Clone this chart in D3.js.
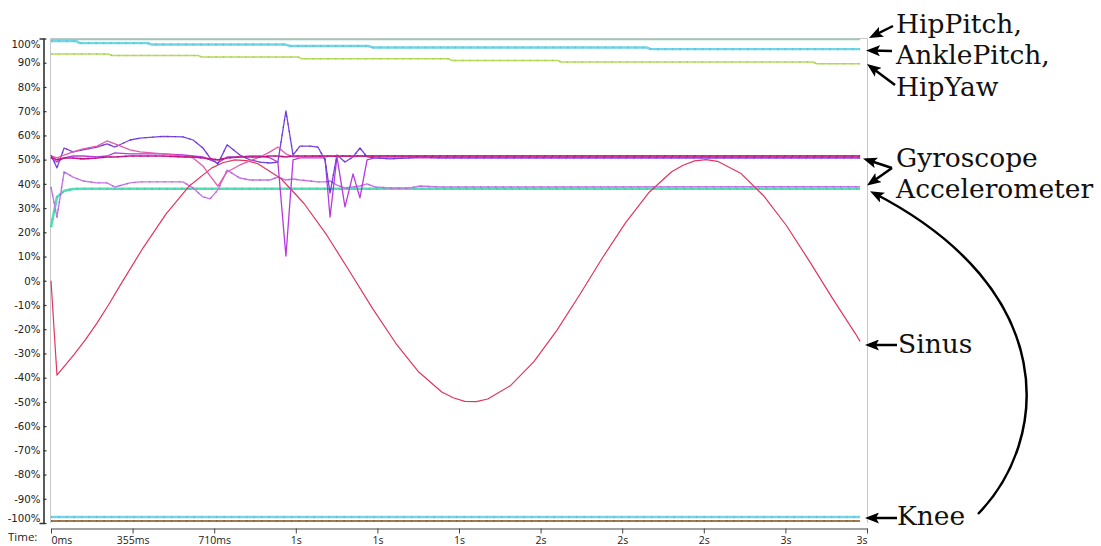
<!DOCTYPE html>
<html>
<head>
<meta charset="utf-8">
<script src="https://cdn.jsdelivr.net/npm/d3@7"></script>
<style>
  html, body { margin: 0; padding: 0; background: #fff; }
  svg { display: block; }
</style>
</head>
<body>
<svg id="chart" width="1101" height="546"></svg>
<script>
// ---- axis ticks ----
const yTickPct = [100, 90, 80, 70, 60, 50, 40, 30, 20, 10, 0, -10, -20, -30, -40, -50, -60, -70, -80, -90, -100];
const xTickMs = [0, 355, 710, 1065, 1420, 1775, 2130, 2485, 2840, 3195, 3550];
const xTickLabels = ["0ms", "355ms", "710ms", "1s", "1s", "1s", "2s", "2s", "2s", "3s", "3s"];

// ---- joint positions (% of range) ----
const hipPitchMs = [0, 3520];
const hipPitchPct = [99.6, 99.6];

const anklePitchMs = [0, 110, 125, 420, 440, 1020, 1040, 1380, 1400, 2590, 2610, 3520];
const anklePitchPct = [98.9, 98.9, 98.1, 98.1, 97.5, 97.5, 96.9, 96.9, 96.3, 96.3, 95.6, 95.6];

const hipYawMs = [0, 250, 265, 640, 655, 1075, 1090, 1730, 1745, 2205, 2220, 3315, 3330, 3520];
const hipYawPct = [93.6, 93.6, 93.0, 93.0, 92.4, 92.4, 91.6, 91.6, 90.9, 90.9, 90.3, 90.3, 89.6, 89.6];

const kneeMs = [0, 3520];
const kneeAPct = [-97.5, -97.5];
const kneeBPct = [-99.2, -99.2];

// ---- inertial sensors ----
const sensorMs = [0, 26, 57, 96, 139, 200, 244, 278, 344, 387, 487, 574, 618, 661, 692, 726, 766, 822, 866, 909,
  953, 987, 1022, 1053, 1083, 1127, 1161, 1192, 1214, 1244, 1279, 1314, 1344, 1375, 1409, 1475, 1562, 1605, 1692, 1779, 3520];

const gyroXPct = [51.9, 46.6, 54.8, 53.2, 54.0, 55.2, 56.5, 55.2, 58.1, 58.9, 59.6, 59.4, 58.1, 54.8, 50.7, 48.2, 56.1, 51.9, 49.9, 49.0,
  48.6, 49.0, 70.1, 51.9, 55.6, 55.6, 55.2, 49.9, 36.2, 51.9, 49.0, 51.1, 54.8, 51.1, 50.7, 50.3, 50.7, 51.1, 50.7, 50.7, 50.7];
const gyroYPct = [51.5, 50.7, 51.9, 53.2, 54.4, 55.6, 57.7, 56.5, 54.0, 53.2, 52.4, 51.5, 50.7, 47.4, 43.3, 39.1, 44.9, 47.8, 49.5, 51.1,
  53.2, 55.2, 52.4, 51.1, 51.1, 51.1, 51.5, 51.1, 51.5, 51.1, 51.5, 51.1, 51.5, 51.5, 51.5, 51.5, 51.5, 51.5, 51.5, 51.5, 51.5];
const gyroZPct = [51.1, 49.9, 50.7, 50.7, 50.3, 50.7, 51.1, 51.1, 51.5, 51.5, 51.5, 51.1, 51.1, 50.7, 50.3, 49.9, 50.7, 51.1, 51.1, 51.1,
  51.5, 51.5, 51.1, 51.5, 51.5, 51.5, 51.5, 51.5, 51.5, 51.5, 51.5, 51.5, 51.5, 51.5, 51.5, 51.5, 51.5, 51.5, 51.5, 51.5, 51.5];
const gyroRefPct = [50.7, 49.0, 50.7, 51.5, 51.5, 51.1, 51.5, 52.8, 52.4, 52.4, 52.4, 51.9, 51.5, 51.1, 49.9, 48.6, 51.1, 51.1, 51.5, 51.5,
  50.7, 49.0, 10.2, 49.9, 50.7, 50.7, 50.7, 50.7, 26.3, 51.1, 30.5, 44.1, 34.2, 49.9, 50.7, 50.7, 50.7, 50.7, 50.7, 50.7, 50.7];
const accelXPct = [38.7, 26.3, 44.9, 42.8, 41.2, 40.4, 40.4, 38.7, 40.4, 40.8, 40.8, 40.8, 38.3, 34.6, 33.8, 37.5, 45.7, 42.4, 41.6, 41.6,
  41.6, 42.8, 41.6, 42.0, 41.6, 41.2, 40.8, 40.8, 41.2, 39.5, 38.3, 38.7, 39.1, 40.0, 38.7, 38.3, 38.3, 39.1, 38.7, 38.7, 38.8];

const accelZMs = [0, 26, 57, 96, 139, 3520];
const accelZPct = [22.2, 34.6, 37.1, 37.9, 38.0, 38.0];

// ---- test signal ----
const sinusMs = [0, 26, 100, 150, 200, 250, 300, 400, 500, 600, 700, 750, 800, 850, 900, 1000, 1100, 1200, 1300, 1400, 1500, 1600, 1700, 1750, 1800, 1850,
  1900, 2000, 2100, 2200, 2300, 2400, 2500, 2600, 2700, 2750, 2800, 2850, 2900, 3000, 3100, 3200, 3300, 3400, 3500, 3520];
const sinusPct = [0, -39, -30.5, -24.3, -17.5, -10.0, -2.0, 13.5, 27.5, 39.0, 46.6, 48.8, 49.9, 49.6, 48.3, 42.2, 32.0, 18.8, 3.7, -11.6, -25.8, -37.7, -45.9, -48.3, -49.8, -49.9,
  -48.8, -43.2, -33.5, -20.6, -5.8, 9.6, 24.0, 36.3, 45.0, 47.7, 49.5, 50.0, 49.3, 44.4, 35.1, 22.7, 8.0, -7.3, -21.9, -25.0];

// ---- layout ----
const svg = d3.select("#chart");
const x = d3.scaleLinear().domain([0, 3550]).range([51, 867]);
const y = d3.scaleLinear().domain([-100, 100]).range([523, 38.5]);

// plot frame
const frame = svg.append("g").attr("stroke", "#c9c9c9").attr("stroke-width", 1).attr("fill", "none");
frame.append("path").attr("d", `M50.5,${y(-100)}V${y(100)}H${x(3550) + 0.5}V${y(-100)}`);

// series definitions
const series = [
  { ms: hipPitchMs, v: hipPitchPct, color: "#88d3b4", w: 1.4 },
  { ms: anklePitchMs, v: anklePitchPct, color: "#72d5e6", w: 2.4, dots: "#54b9cf" },
  { ms: hipYawMs, v: hipYawPct, color: "#b5dc5c", w: 1.5, dots: "#9cc944" },
  { ms: kneeMs, v: kneeAPct, color: "#74d6e6", w: 2.6, dots: "#55b8cd" },
  { ms: kneeMs, v: kneeBPct, color: "#a57a52", w: 2, dots: "#7e5a38" },
  { ms: accelZMs, v: accelZPct, color: "#55dfb6", w: 2.6, dots: "#3cc49b" },
  { ms: sensorMs, v: accelXPct, color: "#c877ea", w: 1.4, dots: "#9a5ccc" },
  { ms: sinusMs, v: sinusPct, color: "#e0365e", w: 1.2 },
  { ms: sensorMs, v: gyroRefPct, color: "#b63ade", w: 1.3 },
  { ms: sensorMs, v: gyroXPct, color: "#7844e6", w: 1.3, dots: "#5a2fc0" },
  { ms: sensorMs, v: gyroYPct, color: "#e45aa8", w: 1.3 },
  { ms: sensorMs, v: gyroZPct, color: "#c4198c", w: 1.6, dots: "#9a0f6c" }
];

const lines = svg.append("g").attr("fill", "none").attr("stroke-linejoin", "round");
series.forEach(s => {
  const pts = d3.zip(s.ms, s.v);
  const gen = d3.line().x(d => x(d[0])).y(d => y(d[1]));
  lines.append("path").attr("d", gen(pts)).attr("stroke", s.color).attr("stroke-width", s.w);
  if (s.dots) {
    lines.append("path").attr("d", gen(pts)).attr("stroke", s.dots)
      .attr("stroke-width", Math.min(s.w, 2)).attr("stroke-dasharray", "1.3 6.2").attr("opacity", 0.75);
  }
});

// y axis
const yAxis = d3.axisLeft(y).tickValues(yTickPct).tickFormat(d => d + "%")
  .tickSizeInner(-3).tickSizeOuter(4).tickPadding(3);
const gy = svg.append("g").attr("transform", "translate(43.5,0)").call(yAxis);
gy.select(".domain").attr("stroke", "#333").attr("stroke-width", 1.6);
gy.selectAll(".tick line").attr("stroke", "#333").attr("stroke-width", 1.2);
gy.selectAll(".tick text")
  .attr("font-family", "DejaVu Sans, sans-serif").attr("font-size", 10.2).attr("fill", "#222")
  .attr("y", d => d === 100 ? 5.5 : d === -100 ? -5 : 0);

// x axis
const xAxis = d3.axisBottom(x).tickValues(xTickMs).tickFormat((d, i) => xTickLabels[i])
  .tickSize(5).tickSizeOuter(0).tickPadding(3);
const gx = svg.append("g").attr("transform", "translate(0,528.5)").call(xAxis);
gx.select(".domain").attr("stroke", "#444").attr("stroke-width", 1.2);
gx.selectAll(".tick line").attr("stroke", "#444");
gx.selectAll(".tick text")
  .attr("font-family", "Open Sans, sans-serif").attr("font-size", 10.5).attr("fill", "#222")
  .attr("text-anchor", (d, i) => i === 0 ? "start" : i === xTickMs.length - 1 ? "end" : "middle");

svg.append("text").attr("x", 8).attr("y", 541).text("Time:")
  .attr("font-family", "Open Sans, sans-serif").attr("font-size", 11.5).attr("fill", "#222");

// ---- annotations ----
const defs = svg.append("defs");
defs.append("marker").attr("id", "head").attr("viewBox", "0 0 14 11")
  .attr("refX", 10).attr("refY", 5.5).attr("markerWidth", 14).attr("markerHeight", 11)
  .attr("markerUnits", "userSpaceOnUse").attr("orient", "auto")
  .append("path").attr("d", "M0,0 L14,5.5 L0,11 L3,5.5 Z").attr("fill", "#000");

const notes = svg.append("g");
function arrow(x1, y1, tx, ty) {
  const dx = tx - x1, dy = ty - y1, len = Math.hypot(dx, dy);
  const ex = tx - 4 * dx / len, ey = ty - 4 * dy / len;
  notes.append("path").attr("d", `M${x1},${y1}L${ex},${ey}`)
    .attr("stroke", "#000").attr("stroke-width", 2.5).attr("fill", "none")
    .attr("marker-end", "url(#head)");
}
arrow(893, 26, 869, 38);
arrow(892, 51, 866, 50.5);
arrow(895, 85, 867, 64);
arrow(892, 168, 863, 158.5);
arrow(892, 168, 867, 185.5);
arrow(897, 345, 865, 345);
arrow(897, 518, 865, 518);
notes.append("path").attr("d", "M978,514C1050,440 1062,290 873.6,193")
  .attr("stroke", "#000").attr("stroke-width", 2.5).attr("fill", "none")
  .attr("marker-end", "url(#head)");

const labels = [
  ["HipPitch,", 896, 32.5], ["AnklePitch,", 896, 64], ["HipYaw", 896, 95.7],
  ["Gyroscope", 896, 166.5], ["Accelerometer", 896, 197.5],
  ["Sinus", 898, 353], ["Knee", 897, 525]
];
notes.selectAll("text.note").data(labels).join("text").attr("class", "note")
  .attr("x", d => d[1]).attr("y", d => d[2]).text(d => d[0])
  .attr("font-family", "DejaVu Serif, serif").attr("font-size", 26.5).attr("fill", "#111");
</script>
</body>
</html>
